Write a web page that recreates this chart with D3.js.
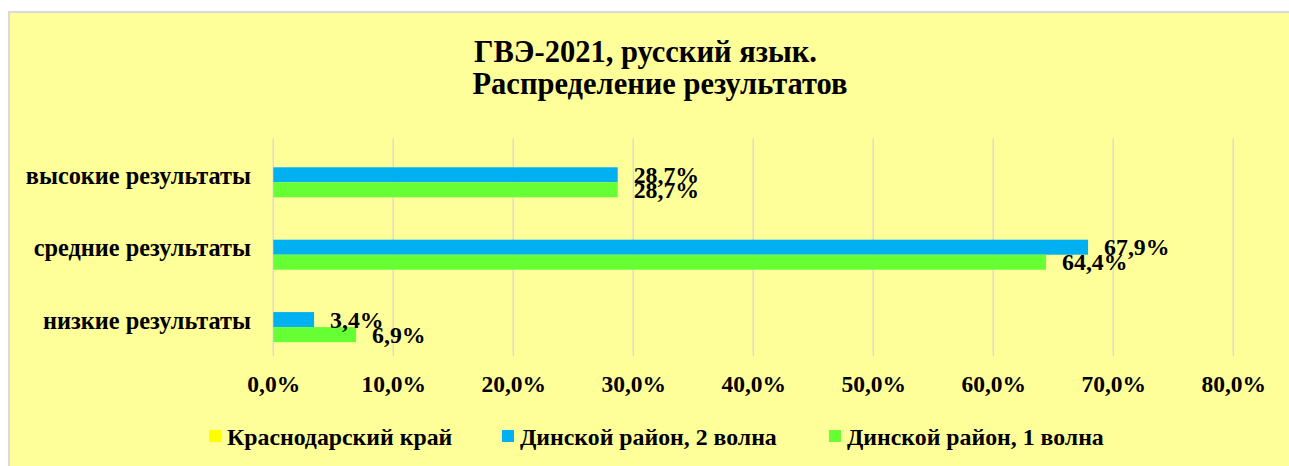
<!DOCTYPE html>
<html>
<head>
<meta charset="utf-8">
<script src="https://cdn.jsdelivr.net/npm/d3@7"></script>
<style>
  html, body { margin: 0; padding: 0; background: #ffffff; overflow: hidden; }
  svg { display: block; }
  text { font-family: "Liberation Serif", "Times New Roman", serif; font-weight: bold; fill: #000; }
</style>
</head>
<body>
<svg id="chart" width="1289" height="466"></svg>
<script>
// Categories, top to bottom
const categories = ["высокие результаты", "средние результаты", "низкие результаты"];

// Series (shares, %)
const seriesNames = ["Краснодарский край", "Динской район, 2 волна", "Динской район, 1 волна"];
const krai   = [null, null, null];
const wave2  = [28.7, 67.9, 3.4];
const wave1  = [28.7, 64.4, 6.9];
const seriesColors = ["#FFFF00", "#00B0F0", "#66FF33"];

const xTicks = [0, 10, 20, 30, 40, 50, 60, 70, 80];
const titleLines = ["ГВЭ-2021, русский язык.", "Распределение результатов"];

const seriesValues = [krai, wave2, wave1];
const fmt = v => v.toFixed(1).replace(".", ",") + "%";

const svg = d3.select("#chart");

// chart area background with border
svg.append("rect")
  .attr("x", 9).attr("y", 12)
  .attr("width", 1320).attr("height", 500)
  .attr("fill", "#FFFF99")
  .attr("stroke", "#D9D9D9")
  .attr("stroke-width", 2);

// title
svg.append("text").attr("x", 645.5).attr("y", 62)
  .attr("text-anchor", "middle").style("font-size", "30.5px").text(titleLines[0]);
svg.append("text").attr("x", 660).attr("y", 94)
  .attr("text-anchor", "middle").style("font-size", "30.5px").text(titleLines[1]);

// scales
const x = d3.scaleLinear().domain([0, 80]).range([273.3, 1233.3]);
const y = d3.scaleBand().domain(categories).range([138.6, 355.8]);
const ySub = d3.scaleBand().domain(seriesNames).range([0, y.bandwidth()])
  .paddingInner(0).paddingOuter(0.913);

// vertical gridlines
svg.append("g")
  .selectAll("line")
  .data(xTicks)
  .join("line")
  .attr("x1", d => x(d)).attr("x2", d => x(d))
  .attr("y1", y.range()[0]).attr("y2", y.range()[1])
  .attr("stroke", "#D9D9D9")
  .attr("stroke-width", 1.5);

// x axis tick labels
const xAxis = d3.axisBottom(x).tickValues(xTicks).tickSize(0).tickPadding(0)
  .tickFormat(d => fmt(d));
svg.append("g")
  .attr("transform", "translate(0,392)")
  .call(xAxis)
  .call(g => g.select(".domain").remove())
  .call(g => g.selectAll("text")
    .attr("dy", 0).attr("y", 0)
    .style("font-size", "23.5px")
    .style("font-family", "'Liberation Serif', 'Times New Roman', serif")
    .style("font-weight", "bold")
    .attr("fill", "#000"));

// y axis category labels
const yAxis = d3.axisLeft(y).tickSize(0).tickPadding(0);
svg.append("g")
  .attr("transform", "translate(251,0)")
  .call(yAxis)
  .call(g => g.select(".domain").remove())
  .call(g => g.selectAll("text")
    .attr("x", 0).attr("dy", 9)
    .style("font-size", "24.3px")
    .style("font-family", "'Liberation Serif', 'Times New Roman', serif")
    .style("font-weight", "bold")
    .attr("fill", "#000"));

// bars and value labels
const rows = [];
seriesNames.forEach((s, si) => {
  categories.forEach((c, ci) => {
    const v = seriesValues[si][ci];
    if (v != null) rows.push({ series: s, cat: c, value: v, color: seriesColors[si] });
  });
});

svg.append("g")
  .selectAll("rect")
  .data(rows)
  .join("rect")
  .attr("x", x(0))
  .attr("y", d => y(d.cat) + ySub(d.series))
  .attr("width", d => x(d.value) - x(0))
  .attr("height", ySub.bandwidth())
  .attr("fill", d => d.color);

svg.append("g")
  .selectAll("text")
  .data(rows)
  .join("text")
  .attr("x", d => x(d.value) + 16)
  .attr("y", d => y(d.cat) + ySub(d.series) + ySub.bandwidth() / 2 + 8)
  .style("font-size", "23.8px")
  .text(d => fmt(d.value));

// legend
const legendX = [209, 502, 829];
const legend = svg.append("g");
seriesNames.forEach((s, i) => {
  legend.append("rect")
    .attr("x", legendX[i]).attr("y", 430)
    .attr("width", 12).attr("height", 12)
    .attr("fill", seriesColors[i]);
  legend.append("text")
    .attr("x", legendX[i] + 18).attr("y", 445)
    .style("font-size", "23.8px")
    .text(s);
});
</script>
</body>
</html>
